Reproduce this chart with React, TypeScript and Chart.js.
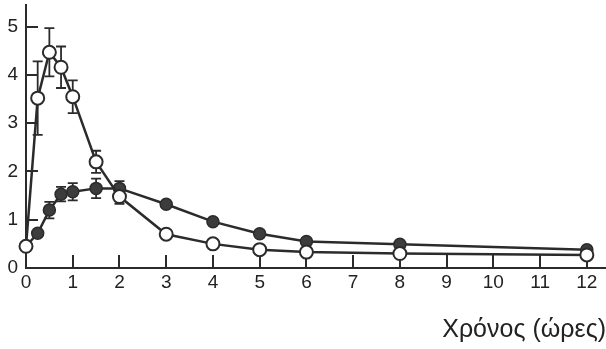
import React, { useEffect, useRef } from "react";
import { Chart, registerables, LineController } from "chart.js";

Chart.register(...registerables);
// Don't let point size reserve extra margin around the plot area.
(LineController.prototype as any).getMaxOverflow = function () {
  return 0;
};

// Sampling times (hours)
const TIMES = [0, 0.25, 0.5, 0.75, 1, 1.5, 2, 3, 4, 5, 6, 8, 12];
// Open circles series
const OPEN_VALUES = [0.45, 3.52, 4.47, 4.16, 3.55, 2.2, 1.48, 0.7, 0.5, 0.38, 0.33, 0.3, 0.27];
const OPEN_ERRORS = [0, 0.76, 0.5, 0.43, 0.34, 0.23, 0.15, 0, 0, 0, 0, 0, 0];
// Filled circles series
const FILLED_VALUES = [0.45, 0.72, 1.2, 1.53, 1.58, 1.65, 1.65, 1.32, 0.96, 0.71, 0.55, 0.49, 0.38];
const FILLED_ERRORS = [0, 0, 0.17, 0.15, 0.18, 0.2, 0.15, 0, 0, 0, 0, 0, 0];

const X_TICKS = [0, 1, 2, 3, 4, 5, 6, 7, 8, 9, 10, 11, 12];
const Y_TICKS = [0, 1, 2, 3, 4, 5];
const X_TITLE = "Χρόνος (ώρες)";

const INK = "#2b2b2b";
const FONT = "'Liberation Sans', Arial, Helvetica, sans-serif";

const tickMarksPlugin = {
  id: "innerTicks",
  beforeDatasetsDraw(chart: any) {
    const ctx = chart.ctx;
    const xs = chart.scales.x;
    const ys = chart.scales.y;
    const area = chart.chartArea;
    ctx.save();
    ctx.strokeStyle = INK;
    ctx.lineWidth = 2;
    ctx.beginPath();
    for (const v of X_TICKS) {
      if (v === 0) continue;
      const px = Math.round(xs.getPixelForValue(v));
      ctx.moveTo(px, area.bottom);
      ctx.lineTo(px, area.bottom - 13);
    }
    for (const v of Y_TICKS) {
      if (v === 0) continue;
      const py = Math.round(ys.getPixelForValue(v));
      ctx.moveTo(area.left, py);
      ctx.lineTo(area.left + 12, py);
    }
    ctx.stroke();
    ctx.restore();
  },
};

const errorBarsPlugin = {
  id: "errorBars",
  beforeDatasetsDraw(chart: any) {
    const ctx = chart.ctx;
    const xs = chart.scales.x;
    const ys = chart.scales.y;
    const series = [
      { vals: OPEN_VALUES, errs: OPEN_ERRORS },
      { vals: FILLED_VALUES, errs: FILLED_ERRORS },
    ];
    ctx.save();
    ctx.strokeStyle = INK;
    ctx.lineWidth = 1.8;
    series.forEach((s) => {
      TIMES.forEach((t, i) => {
        const e = s.errs[i];
        if (!e) return;
        const px = xs.getPixelForValue(t);
        const top = ys.getPixelForValue(s.vals[i] + e);
        const bot = ys.getPixelForValue(s.vals[i] - e);
        const cap = 5;
        ctx.beginPath();
        ctx.moveTo(px, top);
        ctx.lineTo(px, bot);
        ctx.moveTo(px - cap, top);
        ctx.lineTo(px + cap, top);
        ctx.moveTo(px - cap, bot);
        ctx.lineTo(px + cap, bot);
        ctx.stroke();
      });
    });
    ctx.restore();
  },
};

export default function App() {
  const ref = useRef<HTMLCanvasElement>(null);

  useEffect(() => {
    document.body.style.margin = "0";
    document.body.style.background = "#ffffff";
    const canvas = ref.current!;
    const chart = new Chart(canvas, {
      type: "line",
      data: {
        datasets: [
          {
            label: "open",
            data: TIMES.map((t, i) => ({ x: t, y: OPEN_VALUES[i] })),
            borderColor: INK,
            borderWidth: 2.5,
            pointRadius: 6.5,
            pointBorderWidth: 2,
            pointBackgroundColor: "#ffffff",
            pointBorderColor: INK,
            tension: 0,
            clip: false as any,
          },
          {
            label: "filled",
            data: TIMES.map((t, i) => ({ x: t, y: FILLED_VALUES[i] })),
            borderColor: INK,
            borderWidth: 2.5,
            pointRadius: 6,
            pointBorderWidth: 1.5,
            pointBackgroundColor: "#3c3c3c",
            pointBorderColor: INK,
            tension: 0,
            clip: false as any,
          },
        ],
      },
      options: {
        responsive: false,
        animation: false,
        devicePixelRatio: 1,
        layout: { padding: { top: 5, right: 0, bottom: 0, left: 0 } },
        plugins: {
          legend: { display: false },
          tooltip: { enabled: false },
        },
        scales: {
          x: {
            type: "linear",
            min: 0,
            max: 12.41,
            afterBuildTicks: (s: any) => {
              s.ticks = X_TICKS.map((v) => ({ value: v }));
            },
            afterFit: (s: any) => {
              s.height = 81;
              s.paddingLeft = 0;
              s.paddingRight = 0;
            },
            grid: { display: false, drawTicks: false },
            border: { display: true, color: INK, width: 2 },
            ticks: {
              autoSkip: false,
              maxRotation: 0,
              padding: 3,
              color: "#222",
              font: { family: FONT, size: 19 },
              callback: (v: any) => String(v),
            },
            title: {
              display: true,
              text: X_TITLE,
              align: "end",
              color: "#222",
              font: { family: FONT, size: 25 },
              padding: { top: 0, bottom: 4 },
            },
          },
          y: {
            type: "linear",
            min: 0,
            max: 5.45,
            afterBuildTicks: (s: any) => {
              s.ticks = Y_TICKS.map((v) => ({ value: v }));
            },
            afterFit: (s: any) => {
              s.width = 26;
              s.paddingTop = 0;
              s.paddingBottom = 0;
            },
            grid: { display: false, drawTicks: false },
            border: { display: true, color: INK, width: 2 },
            ticks: {
              padding: 8,
              color: "#222",
              font: { family: FONT, size: 19 },
              callback: (v: any) => String(v),
            },
          },
        },
      },
      plugins: [tickMarksPlugin, errorBarsPlugin],
    });
    return () => chart.destroy();
  }, []);

  return (
    <div style={{ width: 606, height: 349 }}>
      <canvas ref={ref} width={606} height={349} style={{ display: "block" }} />
    </div>
  );
}
